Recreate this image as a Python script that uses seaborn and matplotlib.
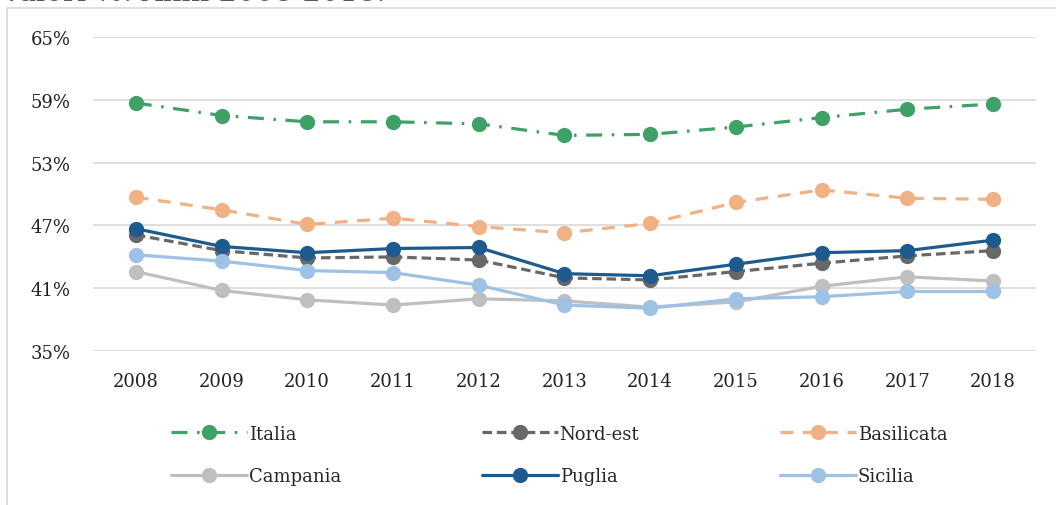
import matplotlib
matplotlib.use("Agg")
import matplotlib.pyplot as plt
import matplotlib.patches as mpatches
import pandas as pd
import seaborn as sns

anni = list(range(2008, 2019))
italia = [58.7, 57.5, 56.9, 56.9, 56.7, 55.6, 55.7, 56.4, 57.3, 58.1, 58.6]
nord_est = [46.1, 44.6, 43.9, 44.0, 43.7, 42.0, 41.8, 42.6, 43.4, 44.1, 44.6]
basilicata = [49.7, 48.5, 47.1, 47.7, 46.9, 46.3, 47.2, 49.2, 50.4, 49.6, 49.5]
campania = [42.6, 40.8, 39.9, 39.4, 40.0, 39.8, 39.2, 39.7, 41.2, 42.1, 41.7]
puglia = [46.7, 45.0, 44.4, 44.8, 44.9, 42.4, 42.2, 43.3, 44.4, 44.6, 45.6]
sicilia = [44.2, 43.6, 42.7, 42.5, 41.3, 39.4, 39.1, 40.0, 40.2, 40.7, 40.7]

serie = {
    "Italia": italia,
    "Nord-est": nord_est,
    "Basilicata": basilicata,
    "Campania": campania,
    "Puglia": puglia,
    "Sicilia": sicilia,
}
colori = {
    "Italia": "#3FA068",
    "Nord-est": "#686868",
    "Basilicata": "#F0B185",
    "Campania": "#BEBFC1",
    "Puglia": "#1D5A8E",
    "Sicilia": "#9DC2E5",
}
tratti = {
    "Italia": (0, (5, 3, 0.8, 3)),
    "Nord-est": (0, (3, 1.5)),
    "Basilicata": (0, (4, 3)),
    "Campania": "-",
    "Puglia": "-",
    "Sicilia": "-",
}

sns.set_theme(style="white")
plt.rcParams["font.family"] = ["DejaVu Serif"]

fig = plt.figure(figsize=(10.56, 5.06), dpi=100)
ax = fig.add_axes([0.088, 0.304, 0.893, 0.621])

# cornice del grafico (come in Excel)
fig.patches.append(mpatches.Rectangle((7 / 1056, -0.1), 1.1, 1 - 9 / 506 + 0.1,
                                      transform=fig.transFigure, fill=False,
                                      edgecolor="#D9D9D9", lw=1.2, zorder=0))
# titolo tagliato in alto, come nell'originale
fig.text(0.0, 1 - 7 / 506, "Valori %. Anni 2008-2018.", fontsize=21,
         color="#595959", va="bottom", ha="left")

handles = {}
for nome, valori in serie.items():
    df = pd.DataFrame({"anno": anni, "valore": valori})
    sns.lineplot(data=df, x="anno", y="valore", ax=ax, color=colori[nome],
                 linestyle=tratti[nome], lw=2.3, marker="o", markersize=11,
                 markeredgewidth=0, label=nome, legend=False)
    handles[nome] = ax.lines[-1]

ax.set_xlim(2007.5, 2018.5)
ax.set_ylim(35, 65)
ax.set_yticks([35, 41, 47, 53, 59, 65])
ax.set_yticklabels([f"{v}%" for v in [35, 41, 47, 53, 59, 65]])
ax.set_xticks(anni)
ax.set_xticklabels([str(a) for a in anni])
ax.tick_params(axis="both", length=0, labelsize=13, colors="#222222")
ax.tick_params(axis="x", pad=15)
ax.tick_params(axis="y", pad=16)
ax.set_xlabel("")
ax.set_ylabel("")
ax.grid(axis="y", color="#D9D9D9", lw=1.2)
ax.grid(axis="x", visible=False)
for s in ax.spines.values():
    s.set_visible(False)

ordine = ["Italia", "Campania", "Nord-est", "Puglia", "Basilicata", "Sicilia"]
fig.legend([handles[n] for n in ordine], ordine, ncol=3, frameon=False,
           loc="center left", bbox_to_anchor=(155 / 1056, 1 - 456 / 506),
           fontsize=13, handlelength=4.2, columnspacing=7.8, labelspacing=1.35,
           handletextpad=0.1)

fig.savefig("out.png", dpi=100)
